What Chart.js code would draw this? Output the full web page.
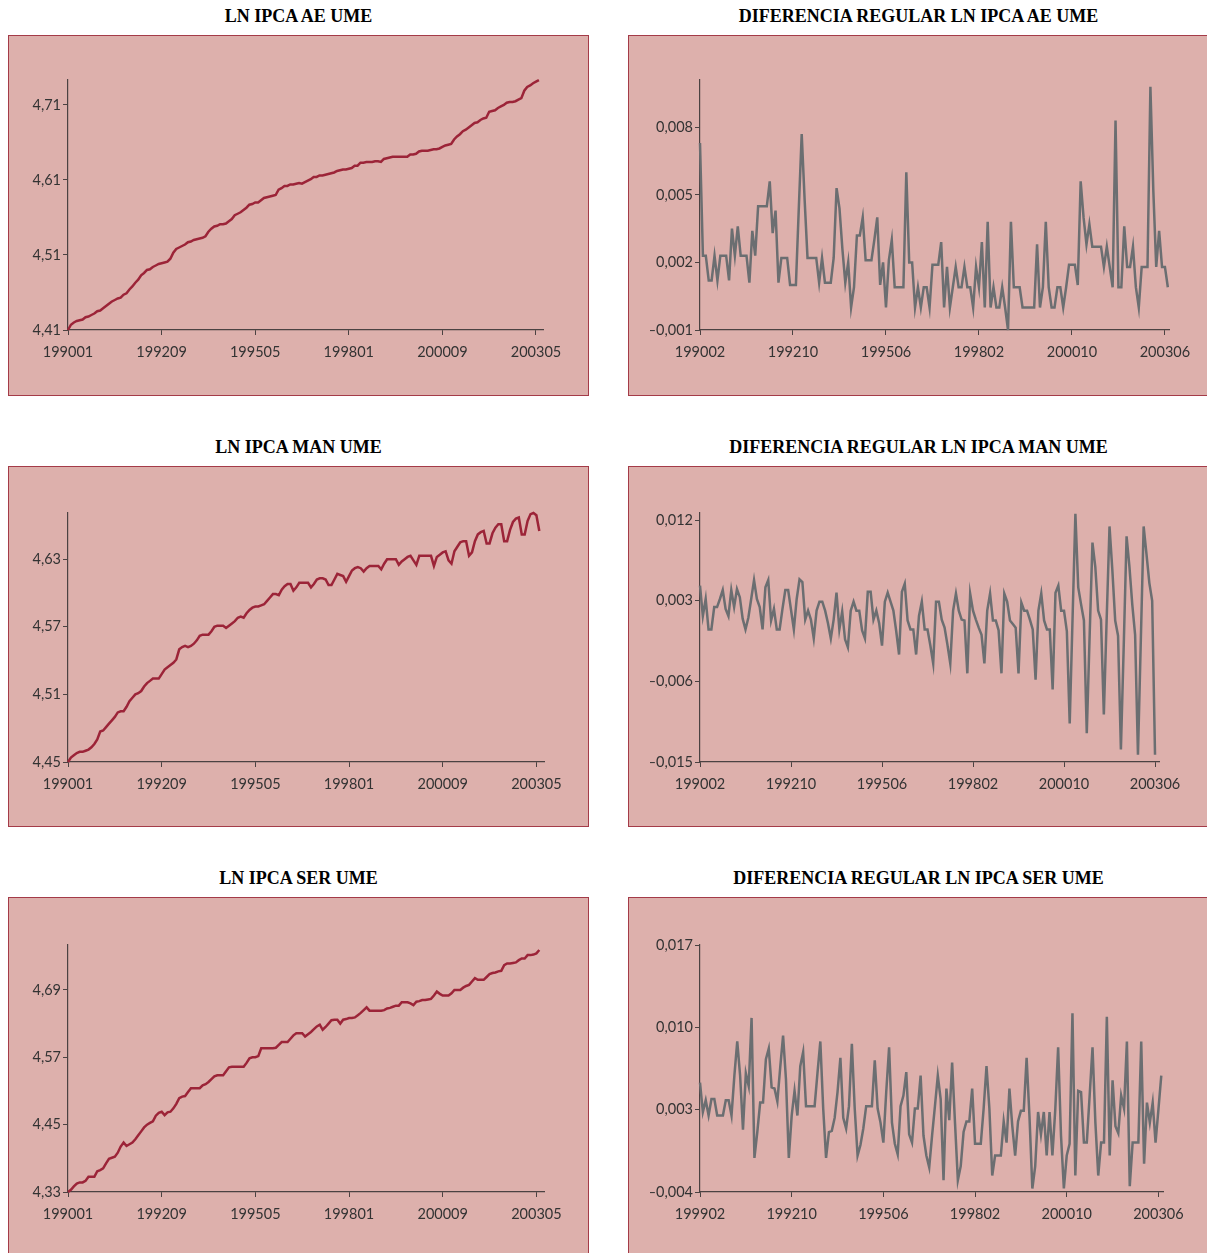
<!DOCTYPE html>
<html>
<head>
<meta charset="utf-8">
<script src="https://cdn.jsdelivr.net/npm/chart.js@4.4.0/dist/chart.umd.min.js"></script>
<style>
body { margin: 0; width: 1207px; height: 1253px; overflow: hidden; background: #fff; position: relative; }
.title { position: absolute; width: 581px; line-height: 20px; text-align: center; font-family: 'Liberation Serif', 'Times New Roman', serif; font-weight: bold; font-size: 18px; color: #000; }
.box { position: absolute; width: 579px; height: 359px; border: 1px solid #a43b48; background: #ddb0ac; }
.box canvas { position: absolute; left: 0; top: 0; }
</style>
</head>
<body>
<script>
// tick labels (month codes) and y ticks
const levelMonths = ['199001', '199209', '199505', '199801', '200009', '200305'];
const diffMonths = ['199002', '199210', '199506', '199802', '200010', '200306'];
const diffMonthsSer = ['199902', '199210', '199506', '199802', '200010', '200306'];
const aeLevelTicks = [4.41, 4.51, 4.61, 4.71];
const manLevelTicks = [4.45, 4.51, 4.57, 4.63];
const serLevelTicks = [4.33, 4.45, 4.57, 4.69];
const aeDiffTicks = [-0.001, 0.002, 0.005, 0.008];
const manDiffTicks = [-0.015, -0.006, 0.003, 0.012];
const serDiffTicks = [-0.004, 0.003, 0.010, 0.017];

// LN IPCA AE UME, monthly 199001 -> 200306
const aeLevel = [
  4.410, 4.417, 4.420, 4.422, 4.423, 4.424, 4.427, 4.428, 4.430, 4.432,
  4.435, 4.436, 4.439, 4.442, 4.445, 4.448, 4.450, 4.452, 4.453, 4.457,
  4.459, 4.464, 4.468, 4.473, 4.477, 4.483, 4.486, 4.490, 4.491, 4.494,
  4.496, 4.498, 4.499, 4.500, 4.501, 4.505, 4.513, 4.518, 4.520, 4.522,
  4.524, 4.527, 4.528, 4.530, 4.531, 4.532, 4.533, 4.535, 4.541, 4.545,
  4.548, 4.549, 4.551, 4.551, 4.552, 4.555, 4.558, 4.563, 4.565, 4.567,
  4.570, 4.573, 4.577, 4.578, 4.580, 4.580, 4.583, 4.586, 4.587, 4.588,
  4.589, 4.590, 4.597, 4.599, 4.602, 4.602, 4.604, 4.604, 4.605, 4.606,
  4.605, 4.607, 4.609, 4.611, 4.614, 4.614, 4.616, 4.616, 4.617, 4.618,
  4.619, 4.620, 4.622, 4.623, 4.624, 4.624, 4.625, 4.626, 4.629, 4.629,
  4.633, 4.633, 4.634, 4.634, 4.634, 4.635, 4.635, 4.634, 4.638, 4.639,
  4.640, 4.641, 4.641, 4.641, 4.641, 4.641, 4.641, 4.644, 4.644, 4.645,
  4.648, 4.649, 4.649, 4.649, 4.650, 4.651, 4.651, 4.652, 4.654, 4.656,
  4.657, 4.658, 4.664, 4.668, 4.671, 4.675, 4.677, 4.680, 4.683, 4.686,
  4.687, 4.690, 4.692, 4.693, 4.701, 4.702, 4.703, 4.706, 4.708, 4.710,
  4.713, 4.714, 4.714, 4.715, 4.717, 4.719, 4.729, 4.734, 4.736, 4.739,
  4.741, 4.743
];

// DIFERENCIA REGULAR LN IPCA AE UME
const aeDiff = [
  0.0073, 0.0023, 0.0023, 0.0012, 0.0012, 0.0023, 0.0012, 0.0023, 0.0023, 0.0023,
  0.0012, 0.0035, 0.0023, 0.0036, 0.0023, 0.0023, 0.0023, 0.0011, 0.0034, 0.0023,
  0.0045, 0.0045, 0.0045, 0.0045, 0.0056, 0.0033, 0.0043, 0.0011, 0.0022, 0.0022,
  0.0022, 0.0010, 0.0010, 0.0010, 0.0044, 0.0077, 0.0048, 0.0022, 0.0022, 0.0022,
  0.0022, 0.0011, 0.0022, 0.0011, 0.0011, 0.0011, 0.0022, 0.0053, 0.0044, 0.0026,
  0.0011, 0.0020, 0.0000, 0.0009, 0.0032, 0.0032, 0.0040, 0.0021, 0.0021, 0.0021,
  0.0030, 0.0040, 0.0010, 0.0020, 0.0000, 0.0021, 0.0030, 0.0009, 0.0009, 0.0009,
  0.0009, 0.0060, 0.0020, 0.0020, 0.0000, 0.0009, 0.0000, 0.0009, 0.0009, 0.0000,
  0.0019, 0.0019, 0.0019, 0.0029, 0.0000, 0.0018, 0.0000, 0.0009, 0.0018, 0.0009,
  0.0009, 0.0018, 0.0009, 0.0009, 0.0000, 0.0018, 0.0009, 0.0029, 0.0000, 0.0038,
  0.0000, 0.0009, 0.0000, 0.0000, 0.0009, 0.0000, -0.0010, 0.0038, 0.0009, 0.0009,
  0.0009, 0.0000, 0.0000, 0.0000, 0.0000, 0.0000, 0.0028, 0.0000, 0.0009, 0.0038,
  0.0009, 0.0000, 0.0000, 0.0009, 0.0009, 0.0000, 0.0009, 0.0019, 0.0019, 0.0019,
  0.0010, 0.0056, 0.0040, 0.0028, 0.0037, 0.0027, 0.0027, 0.0027, 0.0027, 0.0018,
  0.0027, 0.0018, 0.0009, 0.0083, 0.0009, 0.0009, 0.0036, 0.0018, 0.0018, 0.0027,
  0.0009, 0.0000, 0.0018, 0.0018, 0.0018, 0.0098, 0.0052, 0.0018, 0.0034, 0.0018,
  0.0018, 0.0009
];

// LN IPCA MAN UME
const manLevel = [
  4.450, 4.454, 4.456, 4.458, 4.459, 4.459, 4.460, 4.461, 4.463, 4.466,
  4.470, 4.477, 4.478, 4.481, 4.484, 4.487, 4.490, 4.494, 4.495, 4.495,
  4.499, 4.504, 4.507, 4.510, 4.511, 4.513, 4.517, 4.520, 4.522, 4.524,
  4.524, 4.524, 4.528, 4.532, 4.534, 4.536, 4.538, 4.541, 4.550, 4.552,
  4.553, 4.552, 4.553, 4.555, 4.558, 4.562, 4.563, 4.563, 4.563, 4.566,
  4.570, 4.571, 4.571, 4.571, 4.569, 4.571, 4.573, 4.575, 4.578, 4.579,
  4.578, 4.582, 4.585, 4.587, 4.588, 4.588, 4.589, 4.590, 4.593, 4.596,
  4.599, 4.599, 4.598, 4.603, 4.606, 4.608, 4.608, 4.602, 4.605, 4.609,
  4.609, 4.609, 4.609, 4.605, 4.608, 4.612, 4.613, 4.613, 4.612, 4.607,
  4.607, 4.612, 4.617, 4.616, 4.615, 4.610, 4.615, 4.620, 4.622, 4.623,
  4.622, 4.619, 4.622, 4.624, 4.624, 4.624, 4.624, 4.621, 4.626, 4.630,
  4.630, 4.630, 4.630, 4.625, 4.628, 4.630, 4.632, 4.633, 4.629, 4.625,
  4.633, 4.633, 4.633, 4.633, 4.633, 4.624, 4.632, 4.634, 4.636, 4.637,
  4.629, 4.626, 4.637, 4.641, 4.645, 4.646, 4.646, 4.633, 4.636, 4.646,
  4.652, 4.654, 4.655, 4.644, 4.644, 4.653, 4.658, 4.661, 4.661, 4.646,
  4.646, 4.656, 4.663, 4.666, 4.667, 4.652, 4.652, 4.664, 4.670, 4.671,
  4.669, 4.655
];

// DIFERENCIA REGULAR LN IPCA MAN UME
const manDiff = [
  0.0047, 0.0013, 0.0032, -0.0002, -0.0002, 0.0023, 0.0023, 0.0032, 0.0042, 0.0021,
  0.0013, 0.0042, 0.0023, 0.0043, 0.0034, 0.0010, -0.0002, 0.0011, 0.0032, 0.0053,
  0.0032, 0.0023, -0.0002, 0.0045, 0.0053, 0.0008, 0.0021, -0.0002, -0.0002, 0.0021,
  0.0042, 0.0042, 0.0020, -0.0002, 0.0032, 0.0054, 0.0051, 0.0009, 0.0019, 0.0009,
  -0.0012, 0.0019, 0.0029, 0.0029, 0.0019, 0.0005, -0.0012, 0.0009, 0.0039, -0.0002,
  0.0018, -0.0013, -0.0022, 0.0019, 0.0029, 0.0019, 0.0019, -0.0003, -0.0012, 0.0040,
  0.0040, 0.0009, 0.0019, 0.0005, -0.0020, 0.0029, 0.0039, 0.0029, 0.0019, -0.0004,
  -0.0030, 0.0040, 0.0049, 0.0008, -0.0002, -0.0002, -0.0030, 0.0013, 0.0029, -0.0002,
  -0.0002, -0.0020, -0.0040, 0.0029, 0.0029, 0.0009, 0.0000, -0.0019, -0.0040, 0.0019,
  0.0038, 0.0019, 0.0009, 0.0008, -0.0051, 0.0038, 0.0019, 0.0009, 0.0000, -0.0008,
  -0.0040, 0.0019, 0.0038, 0.0008, 0.0008, -0.0003, -0.0051, 0.0038, 0.0029, 0.0008,
  0.0004, 0.0000, -0.0051, 0.0028, 0.0019, 0.0019, 0.0009, -0.0002, -0.0058, 0.0019,
  0.0038, 0.0008, -0.0002, -0.0002, -0.0069, 0.0039, 0.0047, 0.0019, 0.0019, -0.0004,
  -0.0107, 0.0010, 0.0127, 0.0045, 0.0026, 0.0008, -0.0118, -0.0010, 0.0095, 0.0068,
  0.0019, 0.0009, -0.0097, 0.0010, 0.0113, 0.0064, 0.0008, -0.0009, -0.0136, -0.0020,
  0.0102, 0.0068, 0.0026, -0.0008, -0.0142, -0.0015, 0.0113, 0.0082, 0.0050, 0.0030,
  -0.0142
];

// LN IPCA SER UME
const serLevel = [
  4.330, 4.334, 4.340, 4.345, 4.347, 4.347, 4.350, 4.357, 4.357, 4.357,
  4.367, 4.369, 4.372, 4.381, 4.389, 4.391, 4.393, 4.400, 4.411, 4.418,
  4.412, 4.415, 4.418, 4.424, 4.431, 4.438, 4.445, 4.450, 4.453, 4.456,
  4.466, 4.471, 4.473, 4.467, 4.472, 4.473, 4.479, 4.487, 4.497, 4.500,
  4.501, 4.508, 4.515, 4.515, 4.515, 4.515, 4.520, 4.522, 4.526, 4.531,
  4.536, 4.538, 4.538, 4.538, 4.545, 4.552, 4.553, 4.553, 4.553, 4.553,
  4.553, 4.560, 4.568, 4.570, 4.570, 4.572, 4.586, 4.586, 4.586, 4.586,
  4.586, 4.587, 4.592, 4.597, 4.597, 4.597, 4.603, 4.609, 4.613, 4.613,
  4.613, 4.607, 4.611, 4.615, 4.620, 4.625, 4.628, 4.619, 4.624, 4.630,
  4.636, 4.637, 4.637, 4.630, 4.637, 4.638, 4.640, 4.640, 4.641, 4.645,
  4.649, 4.654, 4.659, 4.653, 4.653, 4.653, 4.653, 4.653, 4.654, 4.657,
  4.658, 4.660, 4.662, 4.662, 4.668, 4.668, 4.668, 4.666, 4.663, 4.669,
  4.670, 4.672, 4.672, 4.673, 4.674, 4.680, 4.687, 4.683, 4.680, 4.680,
  4.680, 4.684, 4.690, 4.690, 4.690, 4.694, 4.697, 4.699, 4.705, 4.711,
  4.708, 4.708, 4.708, 4.713, 4.718, 4.720, 4.721, 4.723, 4.724, 4.734,
  4.737, 4.737, 4.738, 4.739, 4.743, 4.746, 4.746, 4.752, 4.752, 4.753,
  4.755, 4.761
];

// DIFERENCIA REGULAR LN IPCA SER UME
const serDiff = [
  0.0053, 0.0028, 0.0038, 0.0025, 0.0039, 0.0039, 0.0025, 0.0025, 0.0025, 0.0038,
  0.0038, 0.0025, 0.0059, 0.0088, 0.0059, 0.0013, 0.0061, 0.0050, 0.0108, -0.0011,
  0.0011, 0.0036, 0.0036, 0.0073, 0.0082, 0.0049, 0.0048, 0.0037, 0.0066, 0.0093,
  0.0056, -0.0011, 0.0025, 0.0046, 0.0025, 0.0067, 0.0079, 0.0033, 0.0033, 0.0033,
  0.0033, 0.0061, 0.0088, 0.0031, -0.0011, 0.0011, 0.0012, 0.0023, 0.0045, 0.0074,
  0.0023, 0.0014, 0.0033, 0.0086, 0.0031, -0.0009, 0.0000, 0.0014, 0.0033, 0.0033,
  0.0033, 0.0072, 0.0031, 0.0019, 0.0002, 0.0045, 0.0083, 0.0019, 0.0001, -0.0008,
  0.0033, 0.0042, 0.0062, 0.0009, 0.0002, 0.0031, 0.0031, 0.0059, 0.0008, -0.0009,
  -0.0019, 0.0008, 0.0033, 0.0059, 0.0039, -0.0030, 0.0048, 0.0021, 0.0070, 0.0019,
  -0.0030, -0.0018, 0.0011, 0.0020, 0.0020, 0.0048, 0.0001, 0.0001, 0.0001, 0.0031,
  0.0067, 0.0031, -0.0026, -0.0009, -0.0009, -0.0009, 0.0020, 0.0002, 0.0048, 0.0016,
  -0.0009, 0.0020, 0.0029, 0.0029, 0.0074, 0.0024, -0.0037, -0.0018, 0.0028, 0.0009,
  0.0028, -0.0009, 0.0028, -0.0009, 0.0030, 0.0083, 0.0008, -0.0037, -0.0009, 0.0001,
  0.0112, -0.0026, 0.0046, 0.0045, 0.0002, 0.0002, 0.0042, 0.0083, 0.0019, -0.0026,
  0.0002, 0.0002, 0.0109, -0.0009, 0.0055, 0.0016, 0.0010, 0.0042, 0.0031, 0.0088,
  -0.0035, 0.0002, 0.0002, 0.0002, 0.0088, -0.0016, 0.0036, 0.0019, 0.0036, 0.0002,
  0.0030, 0.0059
];

const RED = '#9c2438';
const GREY = '#6b6e71';
const AXIS = '#4b4242';

Chart.defaults.font.family = "Lato, 'DejaVu Sans', sans-serif";
Chart.defaults.animation = false;

// fmt a y tick the spanish way: comma decimals, dash minus
function fmt(v, dec) {
  return v.toFixed(dec).replace('.', ',').replace('-', '\u2013');
}

// one panel: title + pink box + line chart; g holds the axis corners in page px
function makePanel(title, g, values, months, yTicks, yMin, yMax, xMax, color, dec) {
  const t = document.createElement('div');
  t.className = 'title';
  t.style.left = g.bx + 'px';
  t.style.top = (g.by - 29) + 'px';
  t.textContent = title;
  document.body.appendChild(t);

  const box = document.createElement('div');
  box.className = 'box';
  box.style.left = g.bx + 'px';
  box.style.top = g.by + 'px';
  const cv = document.createElement('canvas');
  cv.width = 579;
  cv.height = 359;
  box.appendChild(cv);
  document.body.appendChild(box);

  const ox = g.bx + 1, oy = g.by + 1;
  const yW = 50, xH = 34;

  new Chart(cv, {
    type: 'line',
    data: {
      datasets: [{
        data: values.map((v, i) => ({ x: i, y: v })),
        borderColor: color,
        borderWidth: 2.5,
        pointRadius: 0,
        tension: 0,
        fill: false,
        clip: false
      }]
    },
    options: {
      responsive: false,
      events: [],
      layout: {
        padding: {
          left: g.L - ox - yW,
          top: g.T - oy,
          right: ox + 579 - g.R,
          bottom: oy + 359 - g.B - xH
        }
      },
      plugins: { legend: { display: false }, tooltip: { enabled: false } },
      scales: {
        x: {
          type: 'linear',
          min: 0,
          max: xMax,
          afterFit: (s) => { s.height = xH; },
          afterBuildTicks: (s) => { s.ticks = [0, 32, 64, 96, 128, 160].map(v => ({ value: v })); },
          ticks: {
            autoSkip: false,
            maxRotation: 0,
            padding: 9,
            color: '#333',
            font: { size: 14.5 },
            callback: (v, i) => months[i]
          },
          grid: { drawOnChartArea: false, drawTicks: true, tickLength: 5, color: AXIS },
          border: { display: true, color: AXIS, width: 1.2 }
        },
        y: {
          min: yMin,
          max: yMax,
          afterFit: (s) => { s.width = yW; },
          afterBuildTicks: (s) => { s.ticks = yTicks.map(v => ({ value: v })); },
          ticks: {
            padding: 2,
            color: '#333',
            font: { size: 14.5 },
            callback: (v) => fmt(v, dec)
          },
          grid: { drawOnChartArea: false, drawTicks: true, tickLength: 5, color: AXIS },
          border: { display: true, color: AXIS, width: 1.2 }
        }
      }
    }
  });
}

makePanel('LN IPCA AE UME', { bx: 8, by: 35, L: 68, T: 80, B: 330, R: 543 },
  aeLevel, levelMonths, aeLevelTicks, 4.41, 4.7433, 162.4, RED, 2);
makePanel('DIFERENCIA REGULAR LN IPCA AE UME', { bx: 628, by: 35, L: 700, T: 80, B: 330, R: 1169 },
  aeDiff, diffMonths, aeDiffTicks, -0.001, 0.0101, 161.4, GREY, 3);
makePanel('LN IPCA MAN UME', { bx: 8, by: 466, L: 68, T: 513, B: 762, R: 544 },
  manLevel, levelMonths, manLevelTicks, 4.45, 4.671, 162.6, RED, 2);
makePanel('DIFERENCIA REGULAR LN IPCA MAN UME', { bx: 628, by: 466, L: 700, T: 513, B: 762, R: 1159 },
  manDiff, diffMonths, manDiffTicks, -0.015, 0.0128, 161.4, GREY, 3);
makePanel('LN IPCA SER UME', { bx: 8, by: 897, L: 68, T: 945, B: 1192, R: 544 },
  serLevel, levelMonths, serLevelTicks, 4.33, 4.770, 162.6, RED, 2);
makePanel('DIFERENCIA REGULAR LN IPCA SER UME', { bx: 628, by: 897, L: 700, T: 945, B: 1192, R: 1163 },
  serDiff, diffMonthsSer, serDiffTicks, -0.004, 0.017, 161.6, GREY, 3);
</script>
</body>
</html>
